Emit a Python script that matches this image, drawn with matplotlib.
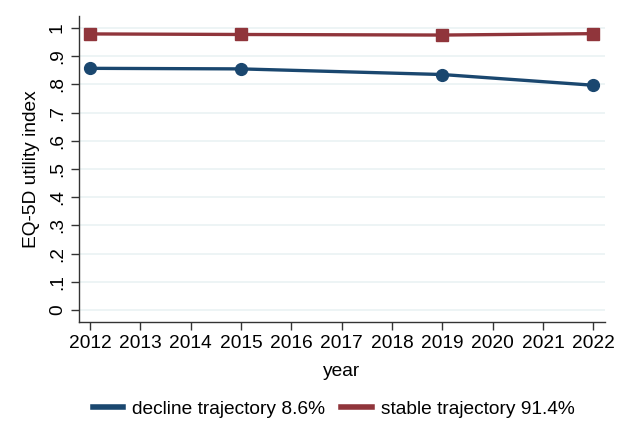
import matplotlib
matplotlib.use("Agg")
import matplotlib.pyplot as plt

# data
years = [2012, 2015, 2019, 2022]
decline = [0.857, 0.855, 0.835, 0.797]
stable = [0.979, 0.977, 0.975, 0.980]
xticks = list(range(2012, 2023))
yticks = [0, 0.1, 0.2, 0.3, 0.4, 0.5, 0.6, 0.7, 0.8, 0.9, 1.0]
ytick_labels = ['0', '.1', '.2', '.3', '.4', '.5', '.6', '.7', '.8', '.9', '1']
labels = ['decline trajectory 8.6%', 'stable trajectory 91.4%']

navy = '#1a476f'
maroon = '#90353b'
fs = 13.8

plt.rcParams['font.family'] = ['Liberation Sans', 'DejaVu Sans']

fig = plt.figure(figsize=(6.24, 4.38), dpi=100)
ax = fig.add_axes([0.1266, 0.2655, 0.843, 0.698])

ax.plot(years, decline, color=navy, lw=2.4, marker='o', ms=8.5,
        label=labels[0], zorder=3)
ax.plot(years, stable, color=maroon, lw=2.4, marker='s', ms=8,
        label=labels[1], zorder=3)

ax.set_xlim(2011.78, 2022.23)
ax.set_ylim(-0.0415, 1.0426)
ax.set_xticks(xticks)
ax.set_yticks(yticks)
ax.set_yticklabels(ytick_labels, rotation=90, va='center')
ax.tick_params(labelsize=fs, length=5.5, width=1, color='#333333', pad=4)
ax.grid(axis='y', color='#eaf2f3', lw=1.2)
ax.set_axisbelow(True)

for s in ['top', 'right']:
    ax.spines[s].set_visible(False)
for s in ['left', 'bottom']:
    ax.spines[s].set_color('#333333')
    ax.spines[s].set_linewidth(1)

ax.set_xlabel('year', fontsize=fs, labelpad=8)
ax.set_ylabel('EQ-5D utility index', fontsize=fs, labelpad=6)

h, l = ax.get_legend_handles_labels()
leg = fig.legend(h, l, loc='center', bbox_to_anchor=(0.5345, 0.066), ncol=2,
                 frameon=False, fontsize=fs, handlelength=1.6,
                 handletextpad=0.45, columnspacing=0.85)
for line in leg.get_lines():
    line.set_marker('')
    line.set_linewidth(4)

fig.savefig('out.png', dpi=100)
